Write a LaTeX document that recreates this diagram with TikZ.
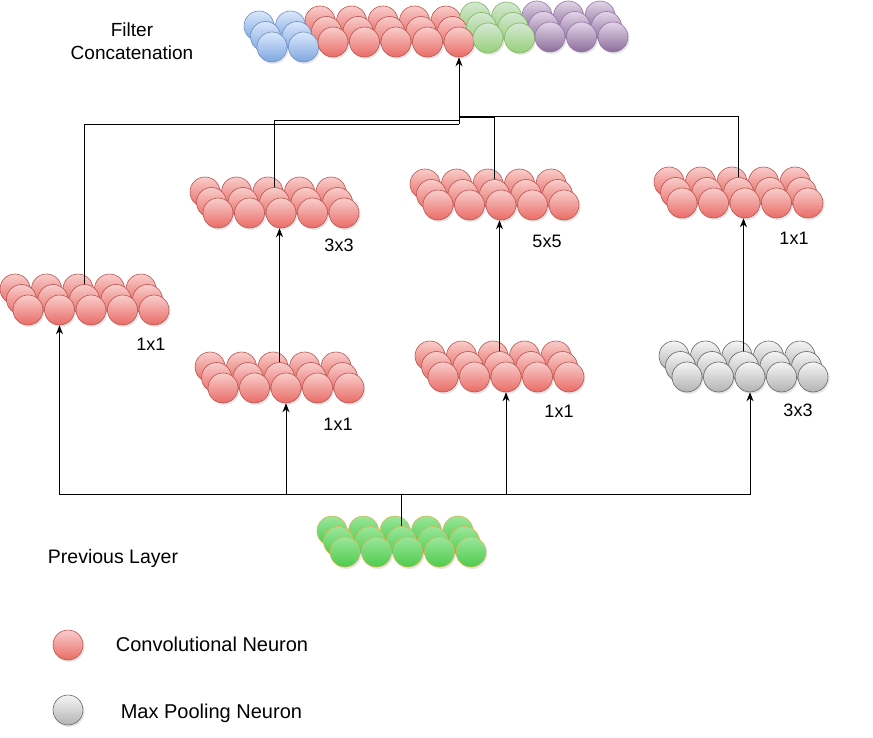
\documentclass[tikz,border=0pt]{standalone}
\usepackage{fontspec}
\setmainfont{Liberation Sans}
\usetikzlibrary{arrows.meta,shadows,positioning}

\definecolor{convtop}{HTML}{F8CECC}
\definecolor{convbot}{HTML}{EA6B66}
\definecolor{convline}{HTML}{B85450}
\definecolor{pooltop}{HTML}{F5F5F5}
\definecolor{poolbot}{HTML}{B3B3B3}
\definecolor{poolline}{HTML}{666666}
\definecolor{prevtop}{HTML}{9BE69B}
\definecolor{prevbot}{HTML}{4CCB4C}
\definecolor{prevline}{HTML}{D6B656}
\definecolor{bluetop}{HTML}{DAE8FC}
\definecolor{bluebot}{HTML}{7EA6E0}
\definecolor{blueline}{HTML}{6C8EBF}
\definecolor{greentop}{HTML}{D5E8D4}
\definecolor{greenbot}{HTML}{97D077}
\definecolor{greenline}{HTML}{82B366}
\definecolor{purpletop}{HTML}{E1D5E7}
\definecolor{purplebot}{HTML}{8C6C9C}
\definecolor{purpleline}{HTML}{9673A6}

\tikzset{
  neuron/.style={circle, minimum size=30pt, inner sep=0pt, line width=0.6pt,
    drop shadow={opacity=0.2, shadow xshift=1.5pt, shadow yshift=-2pt}},
  conv/.style={neuron, draw=convline, top color=convtop, bottom color=convbot},
  pool/.style={neuron, draw=poolline, top color=pooltop, bottom color=poolbot},
  prev/.style={neuron, draw=prevline, top color=prevtop, bottom color=prevbot},
  blueneuron/.style={neuron, draw=blueline, top color=bluetop, bottom color=bluebot},
  greenneuron/.style={neuron, draw=greenline, top color=greentop, bottom color=greenbot},
  purpleneuron/.style={neuron, draw=purpleline, top color=purpletop, bottom color=purplebot},
  link/.style={line width=0.9pt},
  arrowlink/.style={link, -{Stealth[length=9pt,width=7pt]}},
  lbl/.style={font=\fontsize{18}{21}\selectfont},
  txt/.style={font=\fontsize{19.5}{23}\selectfont, align=center},
  keytxt/.style={font=\fontsize{20}{24}\selectfont},
}

% one row of neurons: name, row (0 back .. 2 front), x, y of front first, count, style
\newcommand{\neuronrow}[6]{%
  \foreach \c in {1,...,#5}
    \node[#6] (#1-#2-\c) at ({#3-6.5*(2-#2)+31.5*(\c-1)}, {#4-10.5*(2-#2)}) {};
}
% three rows make a layer
\newcommand{\neuronblock}[5]{%
  \neuronrow{#1}{0}{#2}{#3}{#4}{#5}
  \neuronrow{#1}{1}{#2}{#3}{#4}{#5}
  \neuronrow{#1}{2}{#2}{#3}{#4}{#5}
}

\begin{document}
\begin{tikzpicture}[x=1pt,y=-1pt]
\useasboundingbox (0,0) rectangle (873,738);

% branches
\neuronblock{A}{28}{310}{5}{conv}
\neuronblock{B}{218}{213}{5}{conv}
\neuronblock{C}{223}{388}{5}{conv}
\neuronblock{D}{438}{205}{5}{conv}
\neuronblock{F}{443}{377}{5}{conv}
\neuronblock{E}{682}{203}{5}{conv}
\neuronblock{G}{687}{377}{5}{pool}
\neuronblock{H}{345}{552}{5}{prev}

% filter concatenation, row by row
\foreach \rw in {0,1,2} {
  \neuronrow{cb}{\rw}{272}{47}{2}{blueneuron}
  \neuronrow{cr}{\rw}{333}{42}{5}{conv}
  \neuronrow{cg}{\rw}{488}{38}{2}{greenneuron}
  \neuronrow{cp}{\rw}{550}{37}{3}{purpleneuron}
}

\node[lbl] (A-lbl) at (151,344) {1x1};
\node[lbl] (B-lbl) at (339,245) {3x3};
\node[lbl] (C-lbl) at (338,424) {1x1};
\node[lbl] (D-lbl) at (547,241) {5x5};
\node[lbl] (E-lbl) at (794,238) {1x1};
\node[lbl] (F-lbl) at (559,411) {1x1};
\node[lbl] (G-lbl) at (798,410) {3x3};

\node[txt, font=\fontsize{19}{23}\selectfont] (cat-lbl) at (132,41) {Filter\\Concatenation};
\node[txt] (prev-lbl) at (113,558) {Previous Layer};

% legend
\node[conv] (key-conv) at (68,645) {};
\node[pool] (key-pool) at (68,710) {};
\node[keytxt, right=29pt of key-conv, yshift=1pt] (conv-lbl) {Convolutional Neuron};
\node[keytxt, right=34pt of key-pool, yshift=-3pt] (pool-lbl) {Max Pooling Neuron};

% previous layer to branches
\coordinate (split) at (H-1-3.north |- 0,494);
\draw[link] (split) -- (H-1-3.north);
\draw[arrowlink] (split) -| (A-2-2.south);
\draw[arrowlink] (split) -| (C-2-3.south);
\draw[arrowlink] (split) -| (F-2-3.south);
\draw[arrowlink] (split) -| (G-2-3.south);

% reductions to larger filters
\draw[arrowlink] (C-1-3.north) -- (C-1-3.north |- B-2-3.south);
\draw[arrowlink] (F-1-3.north) -- (F-1-3.north |- D-2-3.south);
\draw[arrowlink] (G-1-3.north) -- (G-1-3.north |- E-2-3.south);

% branches to concatenation
\coordinate (joinA) at (cr-2-5.south |- 0,124);
\coordinate (joinB) at (cr-2-5.south |- 0,120);
\coordinate (joinD) at (cr-2-5.south |- 0,117);
\coordinate (joinE) at (cr-2-5.south |- 0,116);
\draw[link] (A-1-3.north) |- (joinA);
\draw[link] (B-1-3.north) |- (joinB);
\draw[link] (D-1-3.north) |- (joinD);
\draw[link] (E-1-3.north) |- (joinE);
\draw[arrowlink] (joinA) -- (cr-2-5.south);
\end{tikzpicture}
\end{document}
